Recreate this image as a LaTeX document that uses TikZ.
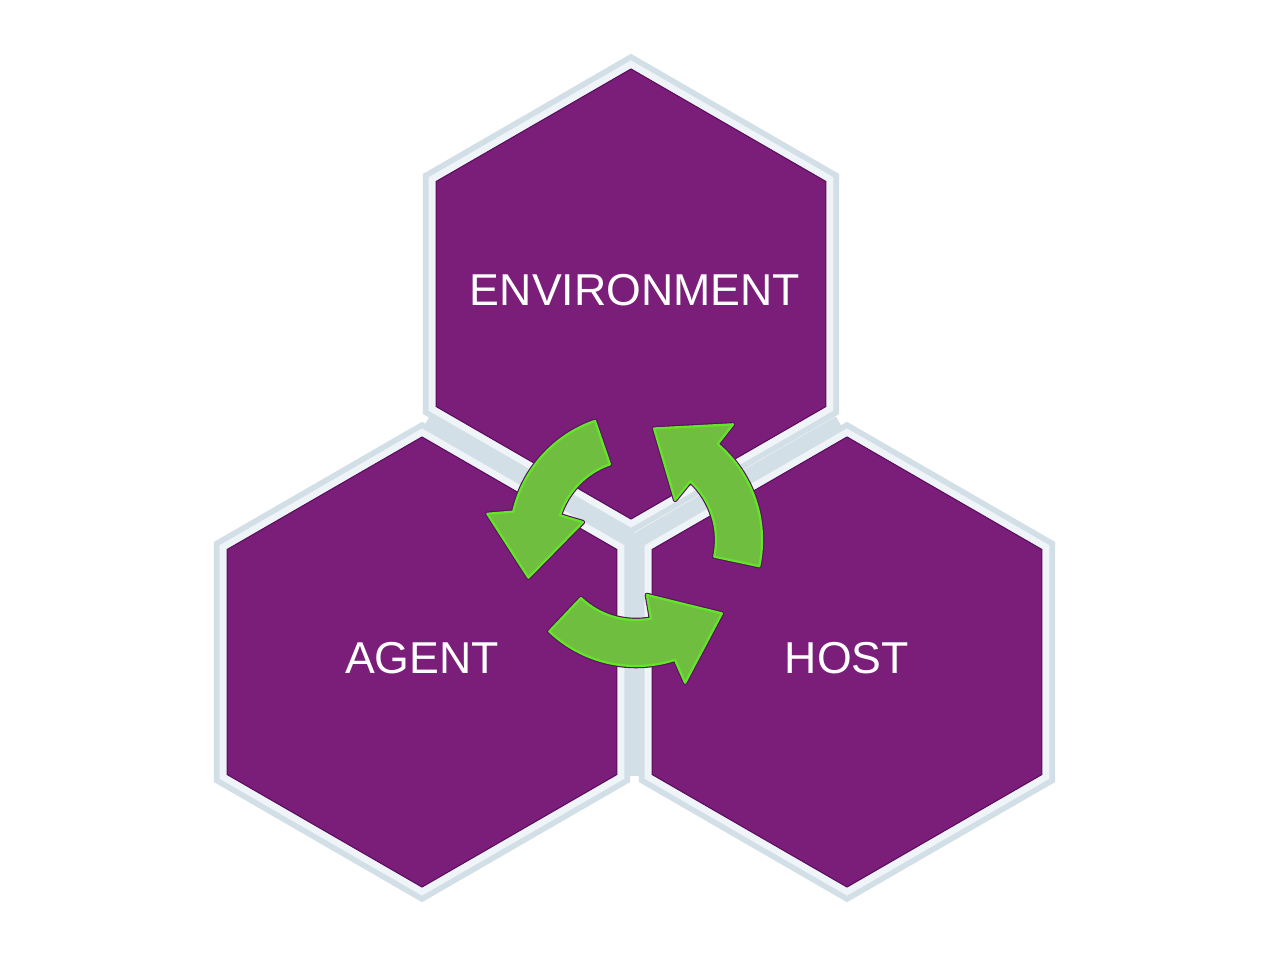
\documentclass[tikz,border=0pt]{standalone}
\usepackage{fontspec}
\setmainfont{Liberation Sans}
\usetikzlibrary{shapes.geometric}
\definecolor{bandgray}{HTML}{D3DFE6}
\definecolor{bandwhite}{HTML}{EEF4F7}
\definecolor{hexpurple}{HTML}{7A1E7A}
\definecolor{hexedge}{HTML}{5B0C5E}
\definecolor{arrowgreen}{HTML}{6FBE3F}
\definecolor{arrowline}{HTML}{64E628}
\definecolor{arrowhalo}{HTML}{5A1260}
\tikzset{
  hexnode/.style={regular polygon, regular polygon sides=6, shape border rotate=30,
    minimum size=337.5pt, inner sep=0pt, outer sep=0pt, fill=hexpurple, draw=hexedge,
    line width=0.8pt},
  hexlabel/.style={text=white, inner sep=0pt, font=\fontsize{33.5}{40}\selectfont},
  cyclearrow/.style={fill=arrowgreen, draw=arrowline, line width=1.7pt, line join=round,
    preaction={draw=arrowhalo, line width=3.4pt, line join=round}},
  gapband/.style={draw=bandgray, line width=8pt, line cap=butt}
}
\begin{document}
\begin{tikzpicture}[x=0.75pt,y=-0.75pt]
\useasboundingbox[fill=white] (0,0) rectangle (1280,960);
\coordinate (T) at (631,294);
\coordinate (L) at (422,662);
\coordinate (R) at (847,662);
\coordinate (J) at (634.5,539);
% outer grey bands
\foreach \c in {T,L,R}
  \fill[bandgray] (\c) +(30:240.2) -- +(90:240.2) -- +(150:240.2) -- +(210:240.2) -- +(270:240.2) -- +(330:240.2) -- cycle;
% grey band in the gaps between hexagons
\coordinate (Jd) at (634.5,776);
\coordinate (Jl) at (427,421);
\coordinate (Jr) at (838.5,421);
\draw[gapband] (Jl) -- (J) -- (Jr);
\draw[gapband] (J) -- (Jd);
% inner white bands
\foreach \c in {T,L,R}
  \fill[bandwhite] (\c) +(30:233.6) -- +(90:233.6) -- +(150:233.6) -- +(210:233.6) -- +(270:233.6) -- +(330:233.6) -- cycle;
% purple hexagons
\node[hexnode] (env) at (T) {};
\node[hexnode] (agent) at (L) {};
\node[hexnode] (host) at (R) {};
\node[hexlabel] (envtext) at ([xshift=3pt,yshift=3pt]env.center) {ENVIRONMENT};
\node[hexlabel] (agenttext) at ([yshift=3pt]agent.center) {AGENT};
\node[hexlabel] (hosttext) at ([yshift=3pt]host.center) {HOST};
% cycle arrows
\begin{scope}[shift={(636,540)}, yscale=-1]
\draw[cyclearrow] (109:126) arc[start angle=109, end angle=167, radius=126]
  -- (170:151) -- (199.3:114) -- (161.4:56) -- (162:80)
  arc[start angle=162, end angle=109, radius=80] -- cycle;
\draw[cyclearrow] (-12:126) arc[start angle=-12, end angle=49.6, radius=126]
  -- (50:151) -- (80.8:113) -- (45.7:56) -- (47.2:80)
  arc[start angle=47.2, end angle=-12, radius=80] -- cycle;
\draw[cyclearrow] (226.5:126) arc[start angle=226.5, end angle=288, radius=126]
  -- (289:151) -- (319.5:113) -- (281.2:56) -- (280.8:80)
  arc[start angle=280.8, end angle=226.5, radius=80] -- cycle;
\end{scope}
\end{tikzpicture}
\end{document}
